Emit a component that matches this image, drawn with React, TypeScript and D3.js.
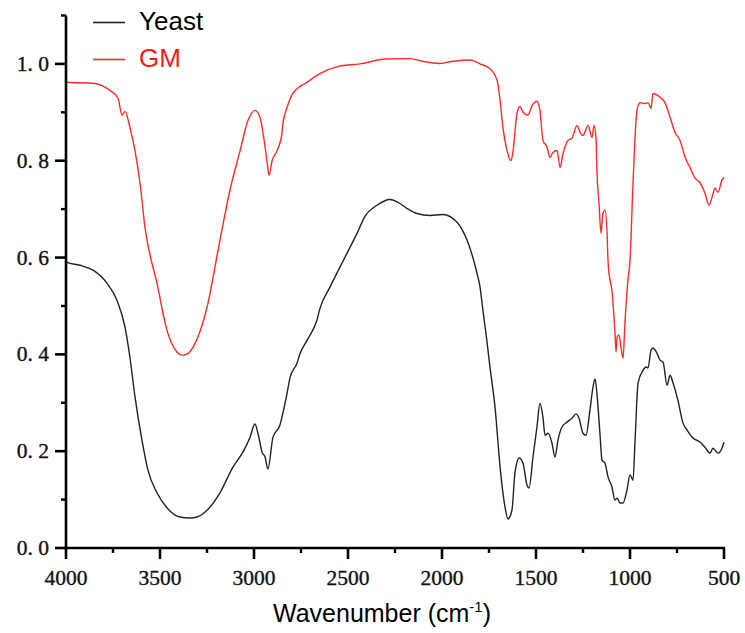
import React from "react";
import * as d3 from "d3";

const gmWave = [4000,3995,3856,3766,3723,3702,3686,3660,3633,3606,3580,3569,3516,3463,3410,3378,3350,3324,3250,3181,3128,3074,3032,2995,2968,2952,2931,2920,2904,2878,2851,2846,2824,2793,2718,2649,2550,2436,2300,2170,2100,2010,1950,1904,1850,1798,1745,1707,1691,1676,1654,1633,1622,1601,1585,1569,1543,1521,1495,1479,1463,1441,1426,1410,1388,1372,1356,1330,1309,1282,1266,1250,1223,1202,1191,1181,1176,1165,1154,1144,1133,1122,1117,1106,1096,1080,1074,1069,1059,1043,1037,1027,1011,1000,984,963,947,920,904,888,878,840,814,787,761,734,707,681,654,628,601,580,564,548,532,511,500];
const gmValue = [0.964,0.962,0.960,0.945,0.929,0.894,0.902,0.869,0.821,0.753,0.663,0.636,0.547,0.450,0.405,0.398,0.402,0.415,0.497,0.636,0.739,0.821,0.883,0.904,0.890,0.857,0.800,0.770,0.800,0.820,0.857,0.877,0.910,0.939,0.962,0.980,0.995,1.000,1.010,1.011,1.005,1.001,1.005,1.007,1.008,1.000,0.990,0.966,0.925,0.869,0.821,0.800,0.820,0.898,0.912,0.900,0.894,0.914,0.923,0.904,0.842,0.828,0.807,0.817,0.821,0.786,0.815,0.842,0.846,0.873,0.859,0.852,0.873,0.848,0.873,0.848,0.780,0.712,0.650,0.691,0.698,0.650,0.594,0.553,0.532,0.444,0.405,0.435,0.440,0.402,0.392,0.464,0.553,0.594,0.753,0.904,0.920,0.918,0.920,0.908,0.939,0.931,0.920,0.890,0.859,0.842,0.807,0.786,0.764,0.755,0.733,0.708,0.724,0.743,0.735,0.760,0.766];

const yeastWave = [4000,3995,3926,3856,3782,3729,3686,3660,3633,3596,3564,3516,3463,3394,3340,3303,3250,3181,3112,3059,3021,2995,2979,2957,2941,2926,2899,2862,2846,2824,2809,2771,2755,2718,2665,2649,2596,2505,2452,2410,2346,2277,2234,2180,2133,2064,1995,1920,1867,1814,1798,1782,1765,1745,1718,1691,1665,1649,1628,1612,1590,1569,1548,1537,1516,1495,1479,1463,1452,1436,1415,1399,1383,1362,1335,1309,1287,1271,1250,1234,1213,1197,1186,1176,1160,1149,1133,1117,1096,1080,1069,1053,1037,1016,1000,984,973,957,931,915,904,888,878,856,840,824,803,787,771,745,718,697,665,628,601,574,559,532,511,500];
const yeastValue = [0.594,0.590,0.584,0.574,0.547,0.512,0.456,0.394,0.312,0.223,0.161,0.114,0.083,0.064,0.062,0.064,0.078,0.114,0.167,0.198,0.229,0.256,0.237,0.198,0.188,0.163,0.229,0.254,0.279,0.320,0.351,0.382,0.402,0.429,0.471,0.495,0.539,0.609,0.650,0.685,0.708,0.720,0.714,0.700,0.691,0.687,0.689,0.673,0.636,0.568,0.540,0.490,0.440,0.374,0.291,0.167,0.085,0.060,0.078,0.155,0.186,0.175,0.130,0.124,0.188,0.250,0.299,0.270,0.233,0.237,0.217,0.188,0.223,0.250,0.260,0.268,0.277,0.268,0.237,0.233,0.285,0.332,0.349,0.320,0.237,0.182,0.175,0.147,0.126,0.099,0.103,0.093,0.093,0.120,0.151,0.140,0.223,0.341,0.367,0.374,0.372,0.409,0.413,0.402,0.388,0.384,0.336,0.357,0.341,0.305,0.258,0.244,0.227,0.219,0.208,0.196,0.206,0.196,0.206,0.219];

const xMajorTicks = [4000,3500,3000,2500,2000,1500,1000,500];
const xMinorTicks = [3750,3250,2750,2250,1750,1250,750];
const yMajorTicks = [0,0.2,0.4,0.6,0.8,1.0];
const yMinorTicks = [0.1,0.3,0.5,0.7,0.9,1.1];
const yTickLabels = ["0. 0","0. 2","0. 4","0. 6","0. 8","1. 0"];

const seriesNames = ["Yeast","GM"];
const seriesColors = ["#222222","#ff2a2a"];

export default function App() {
  const W = 745, H = 633;
  const x = d3.scaleLinear().domain([4000, 500]).range([66, 724]);
  const y = d3.scaleLinear().domain([0, 1.1]).range([548, 15.5]);
  const line = d3.line<[number, number]>()
    .x(d => x(d[0]))
    .y(d => y(d[1]))
    .curve(d3.curveMonotoneX);
  const yeastPts: [number, number][] = yeastWave.map((w, i) => [w, yeastValue[i]]);
  const gmPts: [number, number][] = gmWave.map((w, i) => [w, gmValue[i]]);
  const tickFont = "'Liberation Serif', 'DejaVu Serif', serif";
  const sans = "'Liberation Sans', Arial, sans-serif";
  return (
    <svg width={W} height={H} style={{ position: "absolute", left: 0, top: 0, background: "#fff" }}>
      <path d={line(gmPts) || ""} fill="none" stroke={seriesColors[1]} strokeWidth={1.4} />
      <path d={line(yeastPts) || ""} fill="none" stroke={seriesColors[0]} strokeWidth={1.4} />
      {/* axes */}
      <line x1={66} x2={66} y1={y(1.1)} y2={549.5} stroke="#000" strokeWidth={2.6} />
      <line x1={64.7} x2={725} y1={548} y2={548} stroke="#000" strokeWidth={2.6} />
      {xMajorTicks.map(t => (
        <g key={"xm" + t}>
          <line x1={x(t)} x2={x(t)} y1={548} y2={559} stroke="#000" strokeWidth={2.6} />
          <text x={x(t)} y={585} textAnchor="middle" fontFamily={tickFont} fontSize={21.5} fill="#111" stroke="#111" strokeWidth={0.35}>{t}</text>
        </g>
      ))}
      {xMinorTicks.map(t => (
        <line key={"xn" + t} x1={x(t)} x2={x(t)} y1={548} y2={553} stroke="#000" strokeWidth={2.4} />
      ))}
      {yMajorTicks.map((t, i) => (
        <g key={"ym" + t}>
          <line x1={55} x2={66} y1={y(t)} y2={y(t)} stroke="#000" strokeWidth={2.6} />
          <text x={49} y={y(t) + 7} textAnchor="end" fontFamily={tickFont} fontSize={21.5} fill="#111" stroke="#111" strokeWidth={0.35}>{yTickLabels[i]}</text>
        </g>
      ))}
      {yMinorTicks.map(t => (
        <line key={"yn" + t} x1={61} x2={66} y1={y(t)} y2={y(t)} stroke="#000" strokeWidth={2.4} />
      ))}
      {/* legend */}
      {seriesNames.map((n, i) => (
        <g key={n}>
          <line x1={93} x2={125} y1={22.5 + i * 37} y2={22.5 + i * 37} stroke={seriesColors[i]} strokeWidth={1.6} />
          <text x={139} y={29.5 + i * 37} fontFamily={sans} fontSize={26} fill={i === 0 ? "#000" : "#ee1c1c"}>{n}</text>
        </g>
      ))}
      {/* x title */}
      <text x={273} y={622} fontFamily={sans} fontSize={25} fill="#000">
        Wavenumber (cm<tspan fontSize={15} dy={-10}>-1</tspan><tspan dy={10}>)</tspan>
      </text>
    </svg>
  );
}
